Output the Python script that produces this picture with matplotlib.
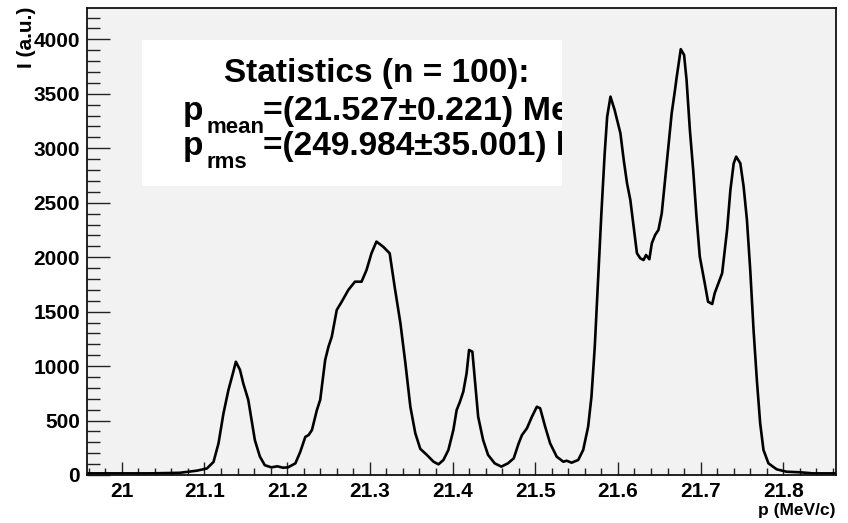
import matplotlib
matplotlib.use('Agg')
import matplotlib.pyplot as plt
from matplotlib.patches import Rectangle
from matplotlib.ticker import FixedLocator, MultipleLocator

# ---- data ----
p_values = [20.958, 20.998, 21.034, 21.070, 21.091, 21.103, 21.111, 21.117, 21.123, 21.129,
            21.135, 21.138, 21.143, 21.147, 21.153, 21.157, 21.161, 21.167, 21.173, 21.181,
            21.188, 21.195, 21.201, 21.210, 21.216, 21.222, 21.226, 21.230, 21.236, 21.240,
            21.246, 21.250, 21.254, 21.260, 21.266, 21.274, 21.282, 21.290, 21.296, 21.302,
            21.308, 21.316, 21.324, 21.330, 21.337, 21.343, 21.349, 21.355, 21.361, 21.369,
            21.377, 21.383, 21.389, 21.395, 21.401, 21.405, 21.409, 21.413, 21.417, 21.420,
            21.424, 21.427, 21.431, 21.437, 21.443, 21.451, 21.459, 21.467, 21.474, 21.480,
            21.484, 21.490, 21.496, 21.502, 21.506, 21.512, 21.518, 21.526, 21.534, 21.538,
            21.544, 21.552, 21.558, 21.564, 21.568, 21.572, 21.576, 21.580, 21.584, 21.587,
            21.591, 21.596, 21.603, 21.607, 21.611, 21.615, 21.619, 21.623, 21.627, 21.631,
            21.634, 21.638, 21.641, 21.645, 21.649, 21.653, 21.657, 21.661, 21.665, 21.669,
            21.671, 21.676, 21.680, 21.683, 21.687, 21.691, 21.695, 21.699, 21.705, 21.709,
            21.714, 21.717, 21.726, 21.732, 21.736, 21.740, 21.743, 21.748, 21.752, 21.756,
            21.760, 21.764, 21.768, 21.772, 21.776, 21.782, 21.792, 21.804, 21.820, 21.836,
            21.863]
intensity = [15, 15, 15, 20, 40, 60, 120, 290, 565, 780,
             950, 1040, 965, 840, 690, 505, 320, 170, 90, 70,
             80, 67, 70, 107, 215, 350, 367, 413, 597, 690,
             1056, 1178, 1270, 1515, 1591, 1699, 1775, 1775, 1882, 2036,
             2143, 2097, 2036, 1729, 1393, 1026, 627, 383, 240, 184,
             122, 98, 138, 230, 413, 597, 673, 765, 934, 1148,
             1132, 872, 535, 321, 184, 107, 77, 107, 153, 291,
             367, 429, 535, 627, 612, 444, 291, 168, 122, 131,
             113, 138, 230, 444, 719, 1178, 1790, 2403, 2954, 3290,
             3474, 3352, 3138, 2893, 2679, 2525, 2280, 2036, 1990, 1974,
             2020, 1981, 2128, 2204, 2250, 2403, 2709, 3015, 3321, 3535,
             3650, 3910, 3857, 3627, 3168, 2801, 2372, 2005, 1760, 1591,
             1570, 1669, 1852, 2250, 2617, 2862, 2923, 2862, 2648, 2342,
             1882, 1331, 872, 475, 230, 107, 52, 30, 25, 15,
             15]

x_ticks = [21.0, 21.1, 21.2, 21.3, 21.4, 21.5, 21.6, 21.7, 21.8]
x_tick_labels = ['21', '21.1', '21.2', '21.3', '21.4', '21.5', '21.6', '21.7', '21.8']
y_ticks = [0, 500, 1000, 1500, 2000, 2500, 3000, 3500, 4000]
y_tick_labels = ['0', '500', '1000', '1500', '2000', '2500', '3000', '3500', '4000']
x_label = 'p (MeV/c)'
y_label = 'I (a.u.)'
stats_title = 'Statistics (n = 100):'
mean_text = '=(21.527\u00b10.221) MeV/c'
rms_text = '=(249.984\u00b135.001) keV/c'

# ---- figure ----
plt.rcParams['font.family'] = ['Liberation Sans', 'DejaVu Sans']
plt.rcParams['font.weight'] = 'bold'

W, H = 848, 523
fig = plt.figure(figsize=(W / 100, H / 100), dpi=100, facecolor='white')


def fx(px):
    return px / W


def fy(py):
    return 1 - py / H


ax = fig.add_axes([fx(87), fy(475), (836 - 87) / W, (475 - 8) / H])
ax.set_facecolor('#f2f2f2')
ax.plot(p_values, intensity, color='black', lw=1.9, solid_joinstyle='round')
ax.set_xlim(20.958, 21.8637)
ax.set_ylim(0, 4288)

for s in ax.spines.values():
    s.set_linewidth(1.3)
    s.set_color('#111111')

ax.xaxis.set_major_locator(FixedLocator(x_ticks))
ax.set_xticklabels(x_tick_labels)
ax.xaxis.set_minor_locator(MultipleLocator(0.02))
ax.yaxis.set_major_locator(FixedLocator(y_ticks))
ax.set_yticklabels(y_tick_labels)
ax.yaxis.set_minor_locator(MultipleLocator(100))

ax.tick_params(axis='both', which='both', direction='in', color='#222222', width=1.0,
               labelsize=15, top=False, right=False)
ax.tick_params(axis='y', which='major', length=16.5, pad=5)
ax.tick_params(axis='y', which='minor', length=9.4)
ax.tick_params(axis='x', which='major', length=9.4, pad=5)
ax.tick_params(axis='x', which='minor', length=5)

# statistics box
box = Rectangle((fx(142), fy(186)), (562 - 142) / W, (186 - 40) / H,
                transform=fig.transFigure, facecolor='white', edgecolor='none', zorder=3)
ax.add_patch(box)

texts = [
    (224, 81.7, stats_title, 24),
    (183, 120, 'p', 24),
    (206, 133.3, 'mean', 16),
    (263, 120, mean_text, 24.5),
    (183, 155, 'p', 24),
    (206, 168.3, 'rms', 16),
    (263, 155, rms_text, 24.1),
]
for px, py, s, fs in texts:
    t = ax.text(fx(px), fy(py), s, transform=fig.transFigure, fontsize=fs,
                fontweight='bold', ha='left', va='baseline', zorder=4, clip_on=True)
    t.set_clip_path(box)

fig.text(fx(27), fy(7), y_label, rotation=90, ha='center', va='top',
         fontsize=15, fontweight='bold')
fig.text(fx(835), fy(503), x_label, ha='right', va='top',
         fontsize=12.5, fontweight='bold')

fig.savefig('out.png', dpi=100, facecolor='white')
